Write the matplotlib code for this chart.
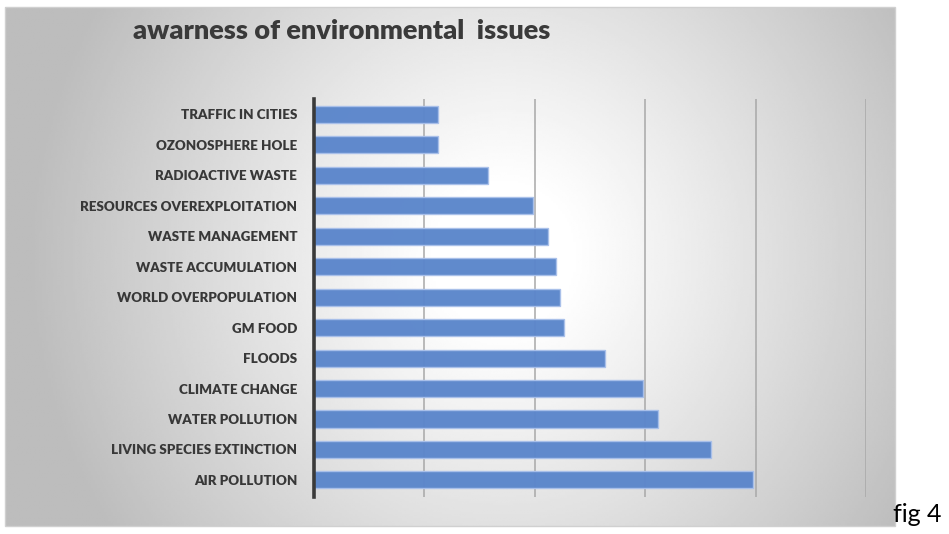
import numpy as np
import matplotlib
matplotlib.use("Agg")
from matplotlib import pyplot as plt

# issues listed from bottom bar to top bar
issues = [
    "AIR POLLUTION",
    "LIVING SPECIES EXTINCTION",
    "WATER POLLUTION",
    "CLIMATE CHANGE",
    "FLOODS",
    "GM FOOD",
    "WORLD OVERPOPULATION",
    "WASTE ACCUMULATION",
    "WASTE MANAGEMENT",
    "RESOURCES OVEREXPLOITATION",
    "RADIOACTIVE WASTE",
    "OZONOSPHERE HOLE",
    "TRAFFIC IN CITIES",
]
scores = [39.8, 36.0, 31.2, 29.8, 26.4, 22.6, 22.3, 21.9, 21.2, 19.8, 15.8, 11.2, 11.2]
grid_ticks = [0, 10, 20, 30, 40, 50]

W, H = 949, 534
fig = plt.figure(figsize=(W / 100, H / 100), dpi=100)
fig.patch.set_facecolor("white")

# chart box with a radial grey shading
bx0, bx1, by0, by1 = 5, 895, 7, 526
bg = fig.add_axes([bx0 / W, 1 - by1 / H, (bx1 - bx0) / W, (by1 - by0) / H])
nx, ny = 400, 240
gx, gy = np.meshgrid(np.linspace(0, 1, nx), np.linspace(0, 1, ny))
cx, cy = 0.56, 0.48
r = np.sqrt(((gx - cx) * 1.6) ** 2 + ((gy - cy) * 0.9) ** 2)
shade = np.clip(1.0 - 0.36 * np.clip(r - 0.12, 0, None) ** 1.05, 0.74, 1.0)
bg.imshow(shade, cmap="gray", vmin=0, vmax=1, aspect="auto", extent=[0, 1, 0, 1],
          interpolation="bilinear")
bg.set_axis_off()
fig.add_artist(plt.Rectangle((bx0 / W, 1 - by1 / H), (bx1 - bx0) / W, (by1 - by0) / H,
                             transform=fig.transFigure, fill=False,
                             edgecolor="#d0d0d0", linewidth=1))

ax = fig.add_axes([314 / W, 1 - 497 / H, (866 - 314) / W, (497 - 99) / H])
ax.patch.set_alpha(0)
y = np.arange(len(issues))
ax.barh(y, scores, height=0.56, color="#5b86cb", edgecolor="#a9c0ea",
        linewidth=1, alpha=0.97, zorder=3)
ax.set_xlim(0, 50)
ax.set_ylim(-0.56, 12.5)
ax.set_xticks(grid_ticks)
ax.xaxis.grid(True, color="#a8a8a8", linewidth=1.1, zorder=0)
ax.tick_params(axis="x", length=0, labelbottom=False)
ax.tick_params(axis="y", length=0, pad=12)
ax.set_yticks(y)
ax.set_yticklabels(issues, fontfamily="Lato", fontweight="heavy", fontsize=9.6,
                   color="#383838")
for s in ["right", "top", "bottom"]:
    ax.spines[s].set_visible(False)
ax.spines["left"].set_color("#3a3a3a")
ax.spines["left"].set_linewidth(2.6)
ax.spines["left"].set_zorder(5)

fig.text(133 / W, 1 - 31 / H, "awarness of environmental  issues", fontfamily="Lato",
         fontweight="heavy", fontsize=19.5, color="#3a3a3a", va="center", ha="left")
fig.text(893 / W, 1 - 514 / H, "fig 4", fontfamily="Lato", fontsize=18,
         color="black", va="center", ha="left")

fig.savefig("out.png", dpi=100)
